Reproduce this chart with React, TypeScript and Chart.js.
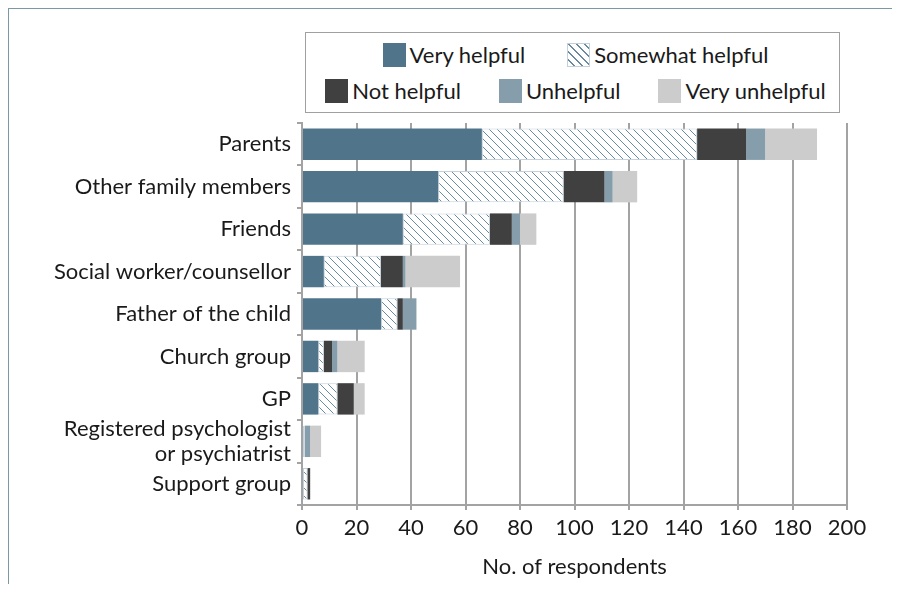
import React, { useEffect, useRef } from "react";
import { Chart, registerables } from "chart.js";

Chart.register(...registerables);

const categories: (string | string[])[] = [
  "Parents",
  "Other family members",
  "Friends",
  "Social worker/counsellor",
  "Father of the child",
  "Church group",
  "GP",
  ["Registered psychologist", "or psychiatrist"],
  "Support group",
];

const seriesNames = ["Very helpful", "Somewhat helpful", "Not helpful", "Unhelpful", "Very unhelpful"];

const veryHelpful = [66, 50, 37, 8, 29, 6, 6, 0, 0];
const somewhatHelpful = [79, 46, 32, 21, 6, 2, 7, 1, 2];
const notHelpful = [18, 15, 8, 8, 2, 3, 6, 0, 1];
const unhelpful = [7, 3, 3, 1, 5, 2, 0, 2, 0];
const veryUnhelpful = [19, 9, 6, 20, 0, 10, 4, 4, 0];

const xTicks = [0, 20, 40, 60, 80, 100, 120, 140, 160, 180, 200];
const xTitle = "No. of respondents";

const FONT = 'Lato, "Liberation Sans", Arial, sans-serif';
const FS = 22;
const C_VH = "#50748a";
const C_NH = "#404040";
const C_U = "#869eac";
const C_VU = "#cccccc";
const HATCH_LINE = "#6a8aa0";
const HATCH_BORDER = "#c3d1da";
const GRID = "#a3a3a3";
const FRAME = "#7b98a9";

function makeHatch(): CanvasPattern | string {
  const s = 8;
  const c = document.createElement("canvas");
  c.width = s;
  c.height = s;
  const ctx = c.getContext("2d");
  if (!ctx) return "#ffffff";
  ctx.fillStyle = "#ffffff";
  ctx.fillRect(0, 0, s, s);
  ctx.strokeStyle = HATCH_LINE;
  ctx.lineWidth = 1;
  ctx.beginPath();
  ctx.moveTo(-1, -1);
  ctx.lineTo(s + 1, s + 1);
  ctx.moveTo(-1, s - 1);
  ctx.lineTo(1, s + 1);
  ctx.moveTo(s - 1, -1);
  ctx.lineTo(s + 1, 1);
  ctx.stroke();
  const p = ctx.createPattern(c, "repeat");
  return p || "#ffffff";
}

const framePlugin = {
  id: "frame",
  beforeDraw(chart: any) {
    const ctx = chart.ctx;
    ctx.save();
    ctx.strokeStyle = FRAME;
    ctx.lineWidth = 2;
    ctx.beginPath();
    ctx.moveTo(8, chart.height);
    ctx.lineTo(8, 8);
    ctx.lineTo(chart.width, 8);
    ctx.stroke();
    ctx.restore();
  },
};

const hatchCss =
  "repeating-linear-gradient(45deg, #ffffff 0px, #ffffff 4px, " + HATCH_LINE + " 4px, " + HATCH_LINE + " 5px, #ffffff 5px, #ffffff 5.66px)";

function Swatch({ idx }: { idx: number }) {
  const base: React.CSSProperties = { width: 23, height: 24, display: "inline-block", boxSizing: "border-box" };
  const colors = [C_VH, "", C_NH, C_U, C_VU];
  if (idx === 1) {
    return <span style={{ ...base, background: hatchCss, border: "1px solid " + HATCH_BORDER }} />;
  }
  return <span style={{ ...base, background: colors[idx] }} />;
}

function LegendItem({ idx }: { idx: number }) {
  return (
    <span style={{ display: "inline-flex", alignItems: "center", gap: 4 }}>
      <Swatch idx={idx} />
      <span>{seriesNames[idx]}</span>
    </span>
  );
}

export default function App() {
  const ref = useRef<HTMLCanvasElement | null>(null);

  useEffect(() => {
    document.documentElement.style.overflow = "hidden";
    if (!ref.current) return;
    const hatch = makeHatch();
    const chart = new Chart(ref.current, {
      type: "bar",
      plugins: [framePlugin],
      data: {
        labels: categories as any,
        datasets: [
          { label: seriesNames[0], data: veryHelpful, backgroundColor: C_VH, borderWidth: 0 },
          {
            label: seriesNames[1],
            data: somewhatHelpful,
            backgroundColor: hatch as any,
            borderColor: HATCH_BORDER,
            borderWidth: 1,
            borderSkipped: false,
          },
          { label: seriesNames[2], data: notHelpful, backgroundColor: C_NH, borderWidth: 0 },
          { label: seriesNames[3], data: unhelpful, backgroundColor: C_U, borderWidth: 0 },
          { label: seriesNames[4], data: veryUnhelpful, backgroundColor: C_VU, borderWidth: 0 },
        ],
      },
      options: {
        indexAxis: "y",
        responsive: false,
        animation: false,
        maintainAspectRatio: false,
        datasets: { bar: { barPercentage: 0.74, categoryPercentage: 1 } },
        layout: { padding: { top: 123, right: 53, bottom: 0, left: 0 } },
        plugins: { legend: { display: false }, tooltip: { enabled: false } },
        scales: {
          x: {
            stacked: true,
            min: 0,
            max: 200,
            afterBuildTicks: (scale: any) => {
              scale.ticks = xTicks.map((v) => ({ value: v }));
            },
            afterFit: (scale: any) => {
              scale.height = 87;
            },
            grid: { color: GRID, lineWidth: 2, tickLength: 5, drawOnChartArea: true },
            border: { color: GRID, width: 2 },
            ticks: { color: "#1a1a1a", font: { family: FONT, size: FS }, padding: 5, maxRotation: 0 },
            title: {
              display: true,
              text: xTitle,
              color: "#1a1a1a",
              font: { family: FONT, size: FS },
              padding: { top: 0, bottom: 12 },
            },
          },
          y: {
            stacked: true,
            afterFit: (scale: any) => {
              scale.width = 302;
            },
            grid: { offset: true, drawOnChartArea: false, color: GRID, lineWidth: 2, tickLength: 5 },
            border: { color: GRID, width: 2 },
            ticks: { color: "#1a1a1a", font: { family: FONT, size: FS, lineHeight: 1.1 }, padding: 6, autoSkip: false },
          },
        },
      } as any,
    });
    return () => chart.destroy();
  }, []);

  return (
    <div style={{ position: "relative", width: 884, height: 576 }}>
      <canvas ref={ref} width={900} height={592} style={{ position: "absolute", left: -8, top: -8, width: 900, height: 592 }} />
      <div
        style={{
          position: "absolute",
          left: 297,
          top: 24,
          width: 535,
          height: 81,
          boxSizing: "border-box",
          border: "1.5px solid #a0a0a0",
          background: "#ffffff",
          fontFamily: FONT,
          fontSize: FS,
          color: "#1a1a1a",
          lineHeight: 1,
          display: "flex",
          flexDirection: "column",
          justifyContent: "center",
          gap: 12,
        }}
      >
        <div style={{ display: "flex", justifyContent: "center", gap: 42, paddingLeft: 6 }}>
          <LegendItem idx={0} />
          <LegendItem idx={1} />
        </div>
        <div style={{ display: "flex", justifyContent: "center", gap: 38, paddingLeft: 6 }}>
          <LegendItem idx={2} />
          <LegendItem idx={3} />
          <LegendItem idx={4} />
        </div>
      </div>
    </div>
  );
}
